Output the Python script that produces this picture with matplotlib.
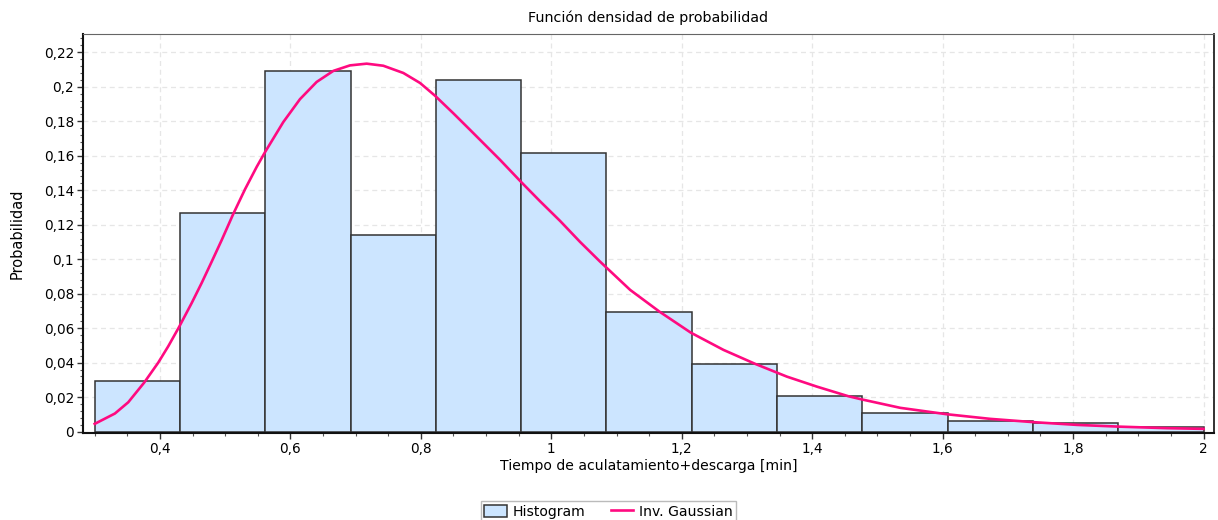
import numpy as np
import matplotlib.pyplot as plt
from matplotlib.ticker import MultipleLocator

# histogram: 13 bins from 0.3 to 2.0
bin_edges = [0.3, 0.4308, 0.5615, 0.6923, 0.8231, 0.9538, 1.0846,
             1.2154, 1.3462, 1.4769, 1.6077, 1.7385, 1.8692, 2.0]
bin_heights = [0.0294, 0.1266, 0.2093, 0.1141, 0.2041, 0.1616, 0.0696,
               0.0394, 0.0207, 0.0108, 0.0064, 0.0050, 0.0029]

# fitted curve
curve_x = [0.300, 0.331, 0.3514, 0.376, 0.3974, 0.4128, 0.4291, 0.4486,
           0.464, 0.4793, 0.4946, 0.5124, 0.5304, 0.5483, 0.561, 0.5891,
           0.6147, 0.6403, 0.6658, 0.6914, 0.717, 0.7425, 0.7732, 0.7988,
           0.8218, 0.8499, 0.8755, 0.9215, 0.9532, 0.9828, 1.0135, 1.0442,
           1.0748, 1.1209, 1.1658, 1.2139, 1.264, 1.3126, 1.3612, 1.4072,
           1.4557, 1.477, 1.535, 1.606, 1.673, 1.739, 1.806, 1.870, 1.944,
           2.0]
curve_y = [0.0045, 0.0105, 0.0170, 0.0285, 0.0400, 0.0495, 0.0605, 0.0745,
           0.0862, 0.0985, 0.1110, 0.1262, 0.1405, 0.1535, 0.1620, 0.1795,
           0.1928, 0.2028, 0.2092, 0.2124, 0.2134, 0.2122, 0.2080, 0.2022,
           0.1948, 0.1846, 0.1750, 0.1576, 0.1450, 0.1336, 0.1222, 0.1100,
           0.0986, 0.0822, 0.0696, 0.0574, 0.0474, 0.0393, 0.0319, 0.0261,
           0.0205, 0.0186, 0.0138, 0.0101, 0.0074, 0.0055, 0.0039, 0.0029,
           0.0020, 0.0016]

xticks = [0.4, 0.6, 0.8, 1.0, 1.2, 1.4, 1.6, 1.8, 2.0]
xtick_labels = ['0,4', '0,6', '0,8', '1', '1,2', '1,4', '1,6', '1,8', '2']
yticks = [0, 0.02, 0.04, 0.06, 0.08, 0.1, 0.12, 0.14, 0.16, 0.18, 0.2, 0.22]
ytick_labels = ['0', '0,02', '0,04', '0,06', '0,08', '0,1', '0,12', '0,14',
                '0,16', '0,18', '0,2', '0,22']

plt.rcParams['font.family'] = ['DejaVu Sans']
plt.rcParams['font.size'] = 9.8

fig = plt.figure(figsize=(12.18, 5.2), dpi=100)
ax = fig.add_axes([0.0681, 0.1673, 0.9286, 0.7673])

lefts = bin_edges[:-1]
widths = np.diff(bin_edges)
bars = ax.bar(lefts, bin_heights, width=widths, align='edge', color='#cce5ff',
              edgecolor='#333333', linewidth=1.1, label='Histogram', zorder=2)
line, = ax.plot(curve_x, curve_y, color='#ff0a80', linewidth=1.9,
                label='Inv. Gaussian', zorder=3)

ax.set_xlim(0.282, 2.016)
ax.set_ylim(-0.0008, 0.2306)
ax.set_xticks(xticks)
ax.set_xticklabels(xtick_labels)
ax.set_yticks(yticks)
ax.set_yticklabels(ytick_labels)
ax.xaxis.set_minor_locator(MultipleLocator(0.05))
ax.yaxis.set_minor_locator(MultipleLocator(0.004))
ax.tick_params(which='major', direction='out', length=4, width=1,
               color='#333333', pad=2.5)
ax.tick_params(which='minor', direction='out', length=2.5, width=0.8,
               color='#555555')

ax.grid(True, which='major', linestyle=(0, (4, 3)), color='#e6e6e6',
        linewidth=0.9, zorder=0)
ax.set_axisbelow(True)

for s in ['left', 'bottom']:
    ax.spines[s].set_linewidth(1.5)
    ax.spines[s].set_color('#111111')
ax.spines['top'].set_color('#666666')
ax.spines['right'].set_color('#222222')
ax.spines['right'].set_linewidth(1.3)

ax.set_title('Función densidad de probabilidad', fontsize=10.3, pad=9)
ax.set_xlabel('Tiempo de aculatamiento+descarga [min]', fontsize=10.1,
              labelpad=2)
ax.set_ylabel('Probabilidad', fontsize=10.5, labelpad=14)

leg = fig.legend([bars, line], ['Histogram', 'Inv. Gaussian'],
                 loc='upper center', bbox_to_anchor=(0.4995, 0.05), ncol=2,
                 frameon=True, fancybox=False, edgecolor='#aaaaaa',
                 fontsize=10.1, handlelength=1.6, handleheight=0.9,
                 columnspacing=1.8, borderpad=0.25, handletextpad=0.4)
leg.get_frame().set_linewidth(1.0)

fig.savefig('out.png', dpi=100)
